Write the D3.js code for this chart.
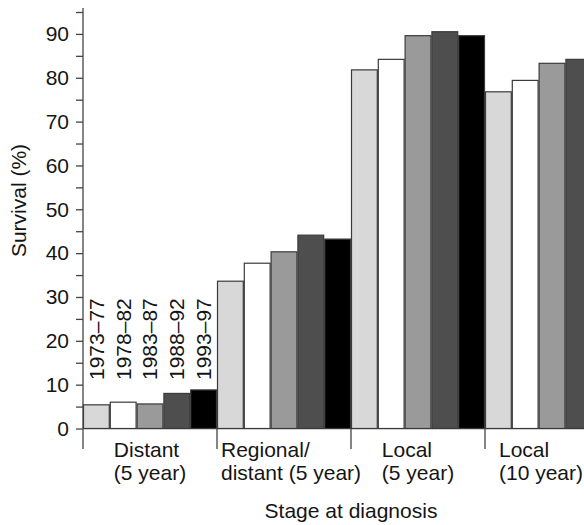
<!DOCTYPE html>
<html>
<head>
<meta charset="utf-8">
<script src="https://cdn.jsdelivr.net/npm/d3@7"></script>
<style>
  html, body { margin: 0; padding: 0; background: #fff; overflow: hidden; }
  svg { display: block; font-family: "Liberation Sans", Arial, Helvetica, sans-serif; }
</style>
</head>
<body>
<svg id="chart" width="584" height="525"></svg>
<script>
// ---- data ----
const categories = ["Distant (5 year)", "Regional/ distant (5 year)", "Local (5 year)", "Local (10 year)"];
const categoryLines = [["Distant", "(5 year)"], ["Regional/", "distant (5 year)"], ["Local", "(5 year)"], ["Local", "(10 year)"]];
const periods = ["1973–77", "1978–82", "1983–87", "1988–92", "1993–97"];
const values1973 = [5.4, 33.6, 81.8, 76.8];
const values1978 = [6.0, 37.7, 84.2, 79.4];
const values1983 = [5.6, 40.3, 89.6, 83.3];
const values1988 = [8.0, 44.1, 90.5, 84.2];
const values1993 = [8.8, 43.2, 89.6, 85.0];
const seriesValues = [values1973, values1978, values1983, values1988, values1993];
const periodColors = ["#d8d8d8", "#ffffff", "#9a9a9a", "#4e4e4e", "#000000"];
const yTicks = d3.range(0, 96, 5);
const yTitle = "Survival (%)";
const xTitle = "Stage at diagnosis";

// ---- layout ----
const W = 584;
const svg = d3.select("#chart");
const x0 = 83, groupW = 134;
const yZero = 428.5, yTop = 12;
const fontSize = 21;
const textColor = "#151515";

const xGroup = d3.scaleBand().domain(categories).range([x0, x0 + groupW * categories.length]).padding(0);
const xBar = d3.scaleBand().domain(periods).range([0, xGroup.bandwidth()]).padding(0);
const y = d3.scaleLinear().domain([0, 95]).range([yZero, yTop]);

// baseline
svg.append("line")
  .attr("x1", x0).attr("x2", W)
  .attr("y1", yZero).attr("y2", yZero)
  .attr("stroke", "#8a8a8a").attr("stroke-width", 1.5);

// bars
const groups = svg.append("g").selectAll("g")
  .data(categories).join("g")
  .attr("transform", d => `translate(${xGroup(d)},0)`);

groups.selectAll("rect")
  .data((c, ci) => periods.map((p, pi) => ({ p, pi, v: seriesValues[pi][ci] })))
  .join("rect")
  .attr("x", d => xBar(d.p) + 0.5)
  .attr("width", xBar.bandwidth() - 1)
  .attr("y", d => y(d.v))
  .attr("height", d => yZero - y(d.v))
  .attr("fill", d => periodColors[d.pi])
  .attr("stroke", "#3a3a3a")
  .attr("stroke-width", 1.2);

// period labels above Distant bars
svg.append("g").selectAll("text")
  .data(periods).join("text")
  .attr("transform", d => `translate(${xGroup(categories[0]) + xBar(d) + xBar.bandwidth() / 2},380) rotate(-90)`)
  .attr("dy", "0.35em")
  .attr("font-size", fontSize)
  .attr("fill", textColor)
  .text(d => d);

// y axis
const yAxis = d3.axisLeft(y)
  .tickValues(yTicks)
  .tickSize(7)
  .tickPadding(7)
  .tickSizeOuter(0)
  .tickFormat(d => d % 10 === 0 ? d : "");
const gy = svg.append("g").attr("transform", `translate(${x0},0)`).call(yAxis);
gy.select(".domain").remove();
gy.selectAll(".tick line").attr("stroke", "#444").attr("stroke-width", 1.3);
gy.selectAll(".tick text").attr("font-size", fontSize).attr("fill", textColor)
  .attr("font-family", "Liberation Sans, Arial, sans-serif");
svg.append("line")
  .attr("x1", x0).attr("x2", x0)
  .attr("y1", 8).attr("y2", 449)
  .attr("stroke", "#444").attr("stroke-width", 1.3);

// group separators
svg.append("g").selectAll("line")
  .data(categories.slice(1)).join("line")
  .attr("x1", d => xGroup(d)).attr("x2", d => xGroup(d))
  .attr("y1", yZero).attr("y2", 449)
  .attr("stroke", "#444").attr("stroke-width", 1.3);

// category labels: left-aligned block, centered on group, kept inside group start and view
categories.forEach((c, ci) => {
  const g = svg.append("g");
  const texts = categoryLines[ci].map((line, li) =>
    g.append("text")
      .attr("y", 457 + li * 23)
      .attr("font-size", fontSize)
      .attr("fill", textColor)
      .text(line));
  const w = d3.max(texts, t => t.node().getComputedTextLength());
  let left = xGroup(c) + xGroup.bandwidth() / 2 - w / 2;
  left = Math.max(left, xGroup(c) + 4);
  left = Math.min(left, W - w - 1);
  texts.forEach(t => t.attr("x", left));
});

// axis titles
svg.append("text")
  .attr("transform", "translate(26,200.5) rotate(-90)")
  .attr("text-anchor", "middle")
  .attr("font-size", fontSize)
  .attr("fill", textColor)
  .text(yTitle);

svg.append("text")
  .attr("x", (x0 + x0 + groupW * categories.length) / 2)
  .attr("y", 518)
  .attr("text-anchor", "middle")
  .attr("font-size", fontSize)
  .attr("fill", textColor)
  .text(xTitle);
</script>
</body>
</html>
